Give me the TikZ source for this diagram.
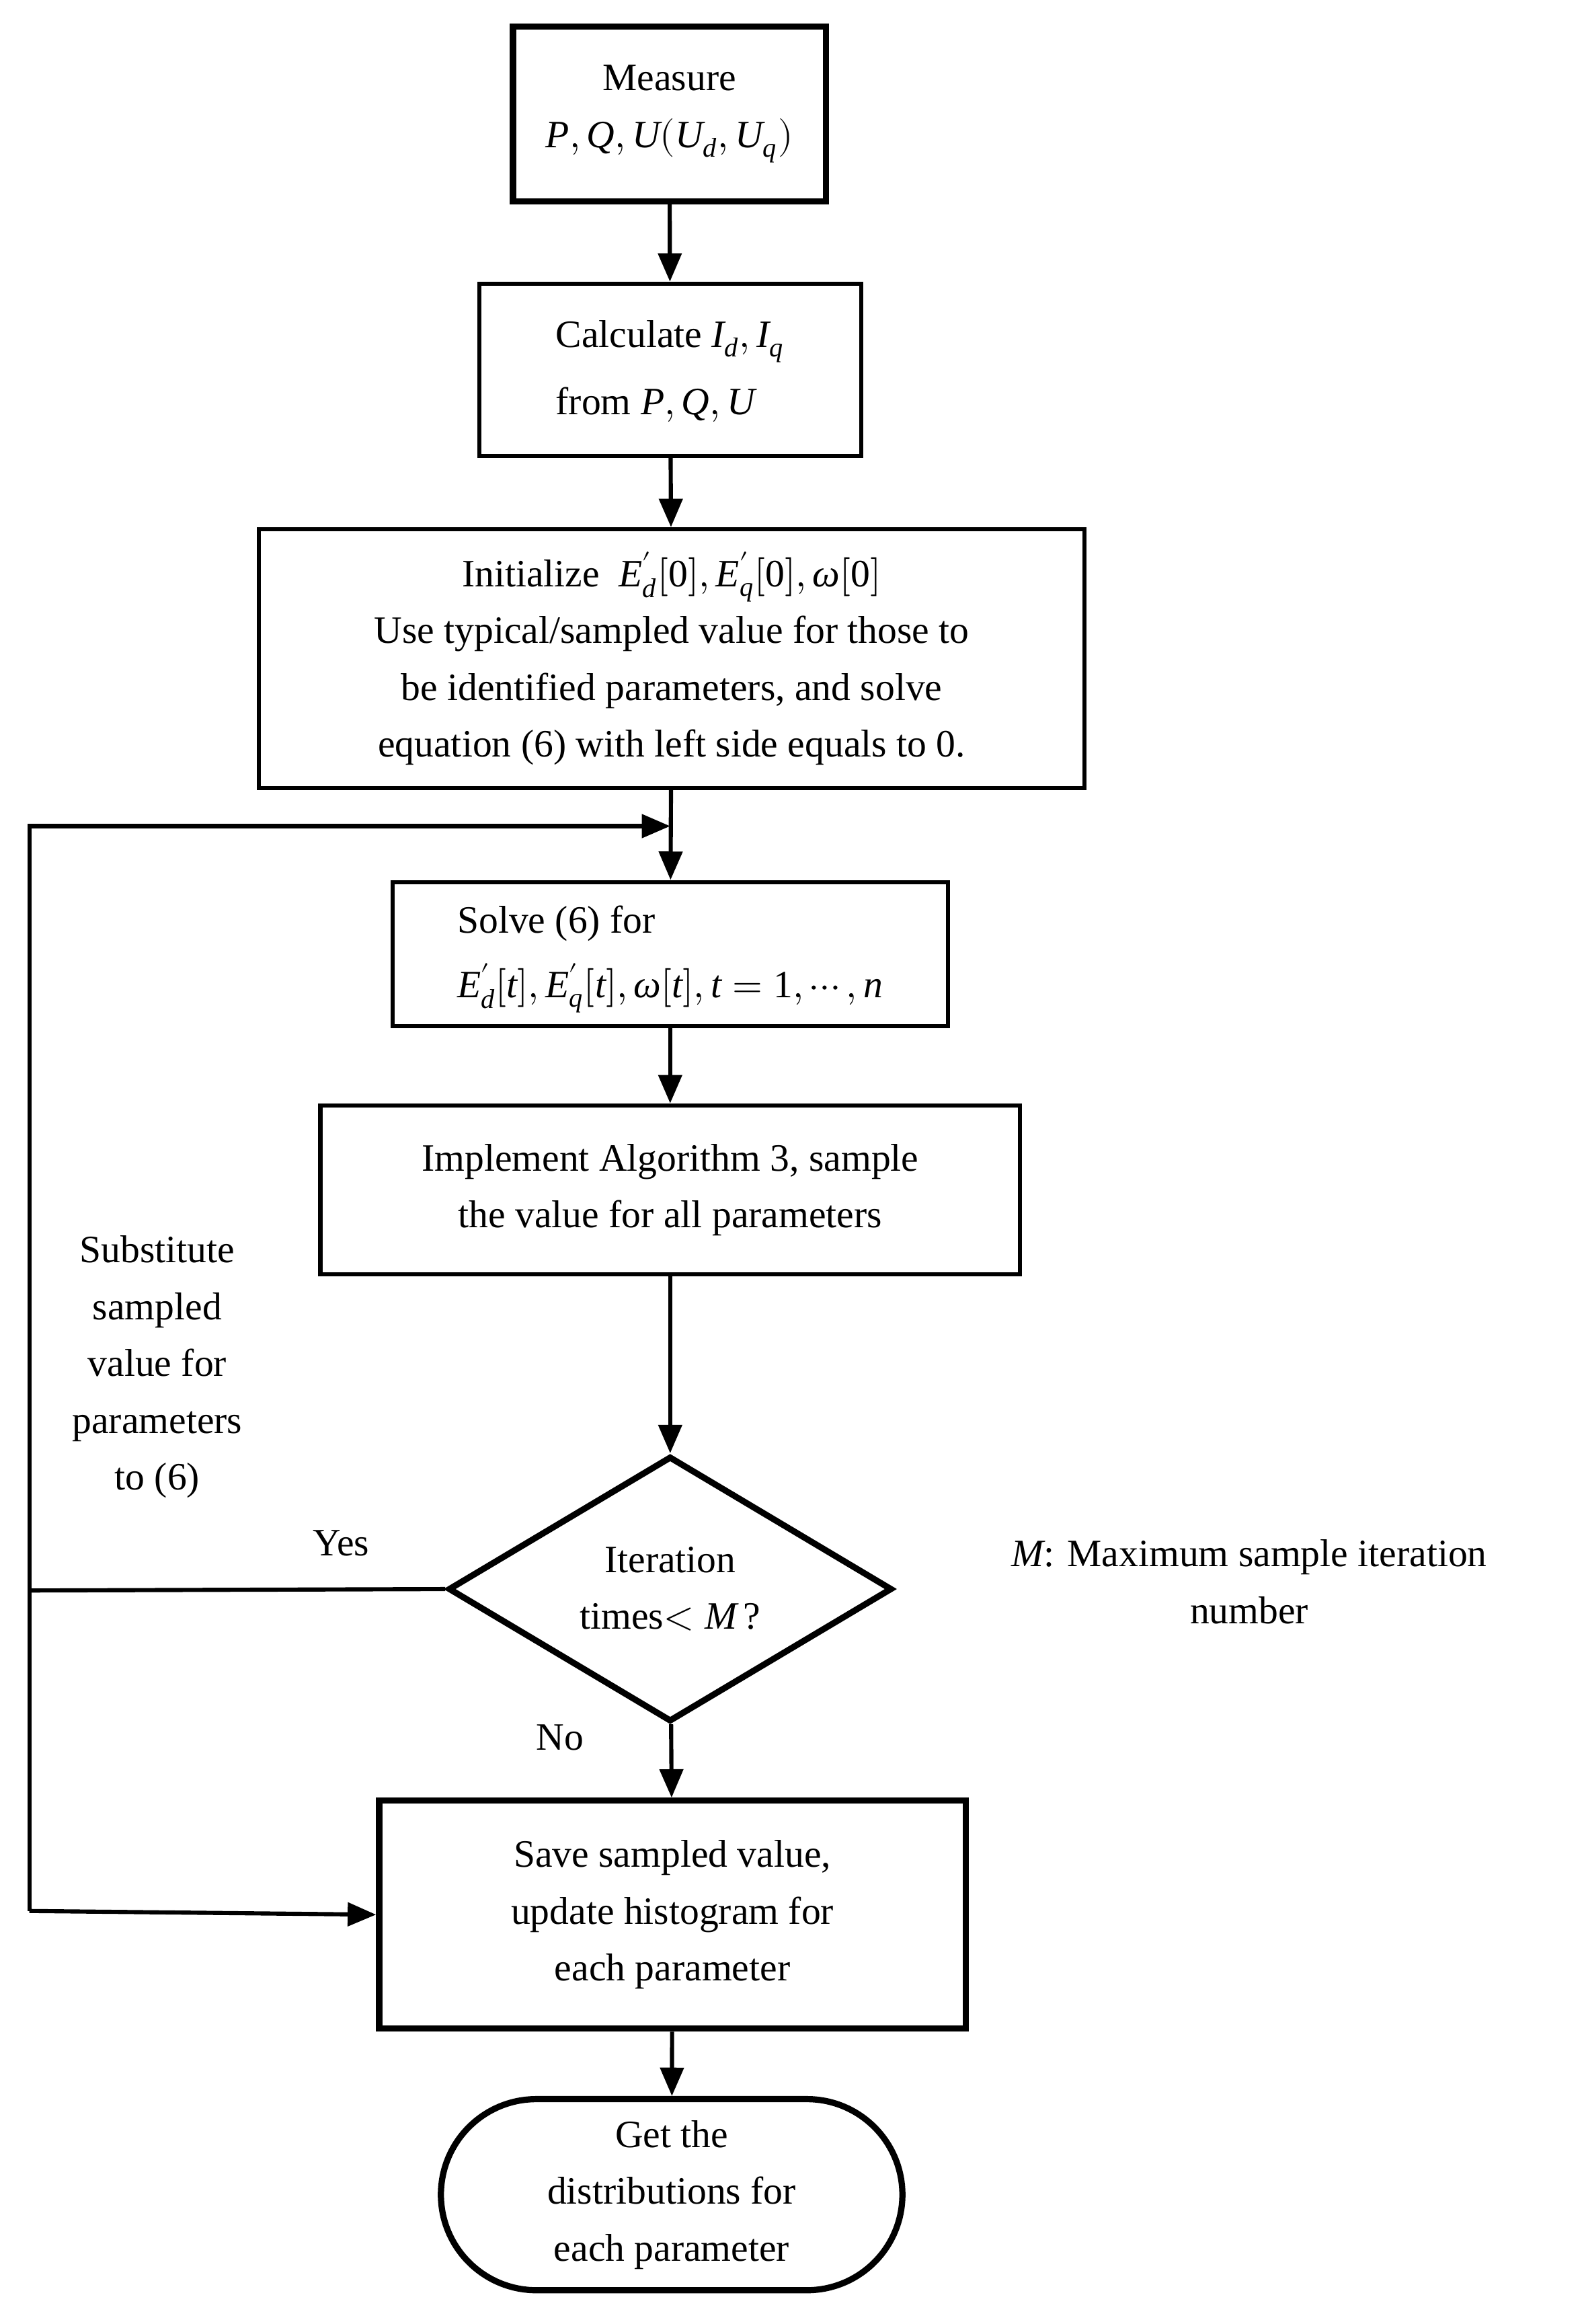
\documentclass[tikz,border=0pt]{standalone}
\usepackage{fontspec}
\setmainfont{Liberation Serif}
\usepackage{unicode-math}
\setmathfont{Latin Modern Math}
\setmathfont[range=it]{Liberation Serif Italic}
\setmathfont[range=up]{Liberation Serif}
\usetikzlibrary{shapes.geometric,arrows.meta}
\begin{document}
\begin{tikzpicture}[x=0.02cm,y=-0.02cm,
  every node/.style={font=\fontsize{15}{22}\selectfont,align=center},
  box/.style={draw,line width=1.6pt,inner sep=0pt},
  tbox/.style={draw,line width=2.4pt,inner sep=0pt},
  arr/.style={line width=1.6pt,-{Triangle[length=11pt,width=9pt]}}]
\useasboundingbox (0,0) rectangle (1076,1581);
\node[tbox,minimum width=213*0.02cm,minimum height=119*0.02cm] (m) at (455.5,77.5) {Measure\\$P,Q,U(U_d,U_q)$};
\node[box,minimum width=260*0.02cm,minimum height=117*0.02cm] (c) at (456,251.5) {\begin{tabular}{@{}l@{}}Calculate $I_d,I_q$\\[4pt] from $P,Q,U$\end{tabular}};
\node[box,minimum width=562*0.02cm,minimum height=176*0.02cm] (i) at (457,448) {Initialize \ $E_d^{'}[0],E_q^{'}[0],\omega[0]$\\Use typical/sampled value for those to\\be identified parameters, and solve\\equation (6) with left side equals to 0.};
\node[box,minimum width=378*0.02cm,minimum height=98*0.02cm] (s) at (456,649) {\begin{tabular}{@{}l@{}}Solve (6) for\\[3pt] $E_d^{'}[t],E_q^{'}[t],\omega[t],t=1,\cdots,n$\end{tabular}};
\node[box,minimum width=476*0.02cm,minimum height=115*0.02cm] (im) at (456,809.5) {Implement Algorithm 3, sample\\the value for all parameters};
\node[diamond,draw,line width=2.4pt,minimum width=302*0.02cm,minimum height=178*0.02cm,inner sep=0pt] (d) at (456,1081) {Iteration\\times$<M$\,?};
\node[tbox,minimum width=399*0.02cm,minimum height=155*0.02cm] (sv) at (457.5,1302.5) {Save sampled value,\\update histogram for\\each parameter};
\node[draw,line width=2.4pt,rounded corners=65*0.02cm,minimum width=314*0.02cm,minimum height=130*0.02cm,inner sep=0pt] (g) at (457,1493) {Get the\\distributions for\\each parameter};
\draw[arr] (m) -- (c);
\draw[arr] (c) -- (i);
\draw[arr] (i) -- (s);
\draw[arr] (s) -- (im);
\draw[arr] (im) -- (d);
\draw[arr] (d) -- (sv);
\draw[arr] (sv) -- (g);
\coordinate (l1) at (20,1082);
\coordinate (l2) at (20,562);
\coordinate (l3) at (20,1300);
\coordinate (t) at (456,562);
\draw[line width=1.6pt] (d.west) -- (l1);
\draw[arr] (l3) -- (l2) -- (t);
\draw[arr] (l3) -- (sv.west);
\node (sub) at (107,930) {Substitute\\sampled\\value for\\parameters\\to (6)};
\node (y) at (232,1050) {Yes};
\node (n) at (381,1182) {No};
\node (mm) at (850,1076) {$M$: Maximum sample iteration\\number};
\end{tikzpicture}
\end{document}
